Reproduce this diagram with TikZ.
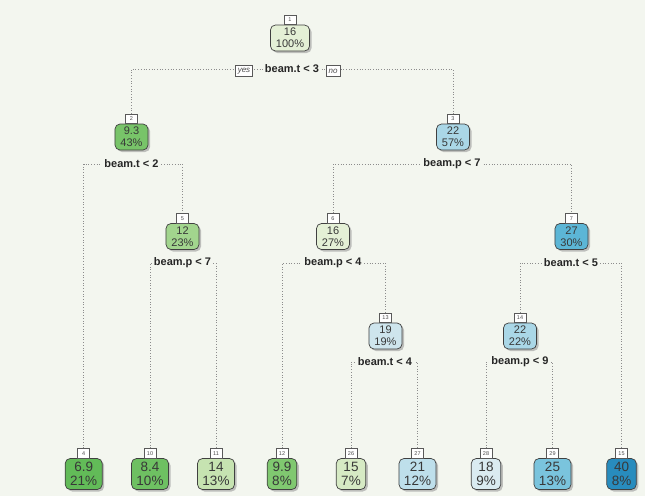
\documentclass[tikz,border=0pt]{standalone}
\usepackage{fontspec}
\setmainfont{Liberation Sans}
\usetikzlibrary{shadows}

\pgfdeclarelayer{back}
\pgfdeclarelayer{edges}
\pgfsetlayers{back,edges,main}

% background and fill colours of the fitted values (green = low, blue = high)
\definecolor{bgc}{RGB}{243,246,239}
\definecolor{c69}{RGB}{98,187,88}
\definecolor{c84}{RGB}{110,192,98}
\definecolor{c93}{RGB}{120,196,105}
\definecolor{c99}{RGB}{128,200,112}
\definecolor{c12}{RGB}{162,213,142}
\definecolor{c14}{RGB}{198,227,177}
\definecolor{c15}{RGB}{214,234,196}
\definecolor{c16}{RGB}{228,240,214}
\definecolor{c18}{RGB}{218,235,241}
\definecolor{c19}{RGB}{206,229,237}
\definecolor{c21}{RGB}{190,223,235}
\definecolor{c22}{RGB}{170,215,231}
\definecolor{c25}{RGB}{122,196,221}
\definecolor{c27}{RGB}{92,182,214}
\definecolor{c40}{RGB}{40,140,190}

\tikzset{
  fitbox/.style={draw=black!75, rounded corners=5pt, align=center,
    inner ysep=2pt, line width=0.7pt, text=black!78,
    drop shadow={shadow xshift=2pt, shadow yshift=-2pt, fill=black!40, opacity=0.6}},
  inner/.style={fitbox, minimum height=26pt, inner xsep=5.5pt,
    font=\fontsize{11}{12}\selectfont},
  leaf/.style={fitbox, minimum height=31pt, inner xsep=5pt,
    font=\fontsize{13.5}{14.5}\selectfont},
  numbox/.style={draw=black!65, fill=white, anchor=south, inner sep=1.2pt,
    minimum width=12pt, minimum height=9.5pt, line width=0.5pt,
    font=\fontsize{5.5}{6}\selectfont, text=black!70},
  split/.style={fill=bgc, inner xsep=2pt, inner ysep=1pt, text=black!85,
    font=\bfseries\fontsize{11}{12}\selectfont},
  yn/.style={draw=black!65, fill=white, inner xsep=2.5pt, inner ysep=1.5pt,
    minimum height=11pt, line width=0.5pt,
    font=\itshape\fontsize{8}{8}\selectfont, text=black!70},
  edge/.style={draw=black!45, dotted, line width=0.7pt}
}

\begin{document}
\begin{tikzpicture}[x=1pt,y=-1pt]
\begin{pgfonlayer}{back}
  \fill[bgc] (0,0) rectangle (645,496);
\end{pgfonlayer}
\useasboundingbox (0,0) rectangle (645,496);

% internal nodes
\node[inner, fill=c16] (n1) at (290,38) {16\\100\%};
\node[numbox] (k1) at (n1.north) {1};
\node[inner, fill=c93] (n2) at (131.5,137) {9.3\\43\%};
\node[numbox] (k2) at (n2.north) {2};
\node[inner, fill=c22] (n3) at (453,137) {22\\57\%};
\node[numbox] (k3) at (n3.north) {3};
\node[inner, fill=c12] (n5) at (182.5,236.5) {12\\23\%};
\node[numbox] (k5) at (n5.north) {5};
\node[inner, fill=c16] (n6) at (333,236.5) {16\\27\%};
\node[numbox] (k6) at (n6.north) {6};
\node[inner, fill=c27] (n7) at (571.5,236.5) {27\\30\%};
\node[numbox] (k7) at (n7.north) {7};
\node[inner, fill=c19] (n13) at (385.5,336) {19\\19\%};
\node[numbox] (k13) at (n13.north) {13};
\node[inner, fill=c22] (n14) at (520,336) {22\\22\%};
\node[numbox] (k14) at (n14.north) {14};

% leaves
\node[leaf, fill=c69] (n4) at (83.7,474) {6.9\\21\%};
\node[numbox] (k4) at (n4.north) {4};
\node[leaf, fill=c84] (n10) at (150,474) {8.4\\10\%};
\node[numbox] (k10) at (n10.north) {10};
\node[leaf, fill=c14] (n11) at (216,474) {14\\13\%};
\node[numbox] (k11) at (n11.north) {11};
\node[leaf, fill=c99] (n12) at (282,474) {9.9\\8\%};
\node[numbox] (k12) at (n12.north) {12};
\node[leaf, fill=c15] (n26) at (351,474) {15\\7\%};
\node[numbox] (k26) at (n26.north) {26};
\node[leaf, fill=c21] (n27) at (417.5,474) {21\\12\%};
\node[numbox] (k27) at (n27.north) {27};
\node[leaf, fill=c18] (n28) at (486,474) {18\\9\%};
\node[numbox] (k28) at (n28.north) {28};
\node[leaf, fill=c25] (n29) at (552.5,474) {25\\13\%};
\node[numbox] (k29) at (n29.north) {29};
\node[leaf, fill=c40] (n15) at (621.5,474) {40\\8\%};
\node[numbox] (k15) at (n15.north) {15};

% split labels
\node[split] (s1) at (292,69) {beam.t < 3};
\node[yn] (yes) at (244,71) {yes};
\node[yn] (no) at (333,71) {no};
\node[split] (s2) at (131.5,164) {beam.t < 2};
\node[split] (s3) at (452,164) {beam.p < 7};
\node[split] (s5) at (182.5,263) {beam.p < 7};
\node[split] (s6) at (333,263) {beam.p < 4};
\node[split] (s7) at (571,263) {beam.t < 5};
\node[split] (s13) at (385,362) {beam.t < 4};
\node[split] (s14) at (520,362) {beam.p < 9};

% branches
\begin{pgfonlayer}{edges}
  \draw[edge] (k2.north) -- (k2.north |- s1) -- (k3.north |- s1) -- (k3.north);
  \draw[edge] (k4.north) -- (k4.north |- s2) -- (k5.north |- s2) -- (k5.north);
  \draw[edge] (k6.north) -- (k6.north |- s3) -- (k7.north |- s3) -- (k7.north);
  \draw[edge] (k10.north) -- (k10.north |- s5) -- (k11.north |- s5) -- (k11.north);
  \draw[edge] (k12.north) -- (k12.north |- s6) -- (k13.north |- s6) -- (k13.north);
  \draw[edge] (k14.north) -- (k14.north |- s7) -- (k15.north |- s7) -- (k15.north);
  \draw[edge] (k26.north) -- (k26.north |- s13) -- (k27.north |- s13) -- (k27.north);
  \draw[edge] (k28.north) -- (k28.north |- s14) -- (k29.north |- s14) -- (k29.north);
\end{pgfonlayer}
\end{tikzpicture}
\end{document}
